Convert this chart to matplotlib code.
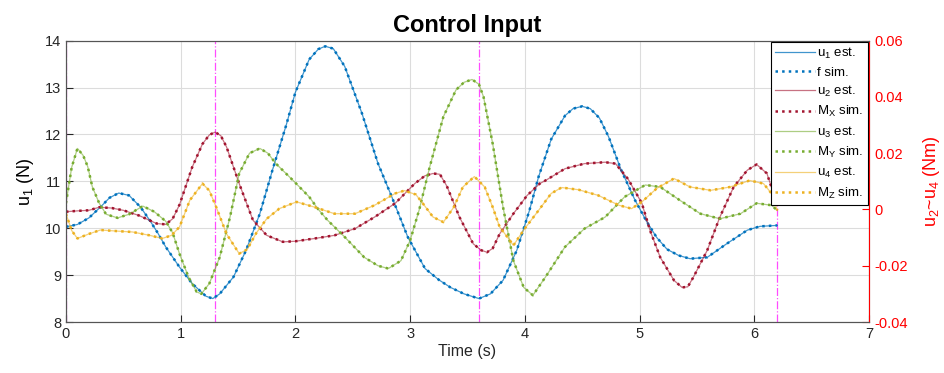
import matplotlib
matplotlib.use("Agg")
import matplotlib.pyplot as plt
from matplotlib.ticker import FuncFormatter

plt.rcParams["font.family"] = ["Liberation Sans", "DejaVu Sans"]
plt.rcParams["mathtext.fontset"] = "custom"
plt.rcParams["mathtext.rm"] = "Liberation Sans"
plt.rcParams["mathtext.it"] = "Liberation Sans"

# ---- data (u1 in N, u2..u4 in Nm) ----
t_u1 = [0, 0.1, 0.2, 0.3, 0.38, 0.46, 0.55, 0.65, 0.73, 0.8, 0.87, 0.99, 1.1,
        1.22, 1.28, 1.34, 1.46, 1.57, 1.69, 1.8, 1.92, 2.0, 2.12, 2.2, 2.26,
        2.33, 2.43, 2.58, 2.72, 2.84, 2.98, 3.13, 3.25, 3.35, 3.47, 3.6, 3.7,
        3.81, 3.93, 4.04, 4.12, 4.23, 4.35, 4.42, 4.5, 4.57, 4.65, 4.73, 4.84,
        4.96, 5.06, 5.15, 5.24, 5.34, 5.44, 5.59, 5.76, 5.94, 6.05, 6.2]
u1 = [10.03, 10.08, 10.22, 10.45, 10.65, 10.75, 10.7, 10.45, 10.17, 9.9, 9.6,
      9.17, 8.82, 8.55, 8.5, 8.6, 8.96, 9.53, 10.31, 11.24, 12.2, 12.9, 13.6,
      13.82, 13.88, 13.83, 13.45, 12.45, 11.38, 10.67, 9.81, 9.14, 8.9, 8.74,
      8.6, 8.5, 8.6, 8.89, 9.53, 10.38, 11.1, 11.9, 12.4, 12.55, 12.6, 12.55,
      12.35, 11.95, 11.24, 10.6, 10.15, 9.8, 9.55, 9.42, 9.35, 9.38, 9.67,
      9.96, 10.04, 10.06]

t_u2 = [0, 0.1, 0.2, 0.29, 0.4, 0.5, 0.64, 0.79, 0.87, 0.93, 0.99, 1.1, 1.19,
        1.25, 1.3, 1.35, 1.4, 1.51, 1.63, 1.75, 1.89, 2.0, 2.17, 2.34, 2.52,
        2.69, 2.87, 3.04, 3.13, 3.2, 3.26, 3.32, 3.43, 3.55, 3.62, 3.67, 3.72,
        3.78, 3.9, 4.02, 4.13, 4.18, 4.35, 4.52, 4.7, 4.79, 4.9, 5.02, 5.09,
        5.18, 5.3, 5.37, 5.42, 5.47, 5.59, 5.7, 5.82, 5.94, 6.02, 6.11, 6.2]
u2 = [-0.0008, -0.0005, -0.0003, 0.0008, 0.0005, -0.0003, -0.0022, -0.005,
      -0.0053, -0.0033, 0.0017, 0.015, 0.0233, 0.0265, 0.0275, 0.0262, 0.0222,
      0.0092, -0.0038, -0.0092, -0.0115, -0.0113, -0.0103, -0.0092, -0.0068,
      -0.0027, 0.0022, 0.0092, 0.012, 0.0128, 0.0125, 0.0083, -0.0027,
      -0.0122, -0.0145, -0.0152, -0.0138, -0.0087, -0.0015, 0.005, 0.0092,
      0.0103, 0.0145, 0.0163, 0.0168, 0.0163, 0.0108, 0.0022, -0.0073, -0.017,
      -0.0252, -0.0277, -0.0275, -0.024, -0.0145, -0.0027, 0.008, 0.014, 0.016,
      0.0128, 0.0017]

t_u3 = [0, 0.05, 0.1, 0.15, 0.19, 0.23, 0.29, 0.35, 0.45, 0.55, 0.67, 0.77,
        0.87, 0.93, 0.99, 1.07, 1.14, 1.18, 1.25, 1.34, 1.43, 1.51, 1.6, 1.69,
        1.76, 1.83, 1.98, 2.12, 2.2, 2.28, 2.43, 2.6, 2.72, 2.81, 2.92, 3.0,
        3.08, 3.17, 3.29, 3.4, 3.47, 3.54, 3.6, 3.64, 3.72, 3.81, 3.9, 3.99,
        4.07, 4.18, 4.35, 4.52, 4.7, 4.87, 5.05, 5.18, 5.35, 5.53, 5.7, 5.88,
        6.02, 6.15, 6.2]
u3 = [0.0022, 0.015, 0.0217, 0.0192, 0.0152, 0.008, 0.0022, -0.0017, -0.003,
      -0.0017, 0.0012, -0.0008, -0.0042, -0.0083, -0.0158, -0.0242, -0.0293,
      -0.03, -0.0263, -0.017, -0.0027, 0.0128, 0.02, 0.0217, 0.02, 0.0163,
      0.0103, 0.0045, 0.0, -0.0038, -0.0098, -0.017, -0.02, -0.021, -0.0182,
      -0.011, 0.0, 0.015, 0.033, 0.0425, 0.0452, 0.0462, 0.0445, 0.04, 0.0233,
      0.0008, -0.0182, -0.0277, -0.0305, -0.024, -0.0133, -0.0068, -0.0027,
      0.0045, 0.0087, 0.008, 0.0033, -0.0015, -0.0033, -0.0015, 0.0022, 0.0015,
      -0.0003]

t_u4 = [0, 0.05, 0.1, 0.2, 0.3, 0.45, 0.58, 0.73, 0.84, 0.92, 0.99, 1.08, 1.19,
        1.25, 1.31, 1.4, 1.51, 1.58, 1.66, 1.75, 1.86, 2.01, 2.17, 2.34, 2.52,
        2.69, 2.87, 2.95, 3.05, 3.11, 3.2, 3.29, 3.38, 3.46, 3.56, 3.65, 3.72,
        3.78, 3.87, 3.9, 3.99, 4.12, 4.23, 4.32, 4.47, 4.64, 4.82, 4.93, 5.02,
        5.15, 5.3, 5.44, 5.62, 5.79, 5.96, 6.08, 6.15, 6.2]
u4 = [-0.0015, -0.0075, -0.0103, -0.0087, -0.0073, -0.0077, -0.008, -0.0092,
      -0.0103, -0.0092, -0.0062, 0.0033, 0.0092, 0.0067, 0.0008, -0.0087,
      -0.0157, -0.0142, -0.0083, -0.0033, 0.0003, 0.0027, 0.0008, -0.0015,
      -0.0015, 0.0015, 0.0057, 0.0067, 0.0053, 0.0022, -0.0027, -0.0045,
      0.0008, 0.008, 0.0117, 0.008, 0.0008, -0.0062, -0.011, -0.0128, -0.0073,
      -0.0003, 0.0057, 0.0078, 0.007, 0.005, 0.0015, 0.0003, 0.0027, 0.0075,
      0.011, 0.008, 0.0068, 0.008, 0.0103, 0.0092, 0.0057, -0.0003]

event_times = [0, 1.3, 3.6, 6.2]

est_labels = [r"u$_1$ est.", r"u$_2$ est.", r"u$_3$ est.", r"u$_4$ est."]
sim_labels = [r"f sim.", r"M$_X$ sim.", r"M$_Y$ sim.", r"M$_Z$ sim."]
colors = ["#0072BD", "#A2142F", "#77AC30", "#EDB120"]

fig = plt.figure(figsize=(9.45, 3.73), dpi=100)
ax = fig.add_axes([0.0698, 0.1367, 0.8498, 0.7543])
ax2 = ax.twinx()

handles = []
h1, = ax.plot(t_u1, u1, "-", color=colors[0], lw=0.9, alpha=0.75, label=est_labels[0])
h2, = ax.plot(t_u1, u1, ":", color=colors[0], lw=1.8, label=sim_labels[0])
handles += [h1, h2]
for i, (tt, yy) in enumerate([(t_u2, u2), (t_u3, u3), (t_u4, u4)], start=1):
    he, = ax2.plot(tt, yy, "-", color=colors[i], lw=0.9, alpha=0.6, label=est_labels[i])
    hs, = ax2.plot(tt, yy, ":", color=colors[i], lw=1.8, label=sim_labels[i])
    handles += [he, hs]

for te in event_times:
    ax.axvline(te, color="#FF00FF", lw=0.9, ls="-.", alpha=0.7, zorder=1.5)

ax.set_xlim(0, 7)
ax.set_ylim(8, 14)
ax2.set_ylim(-0.04, 0.06)
ax.set_xticks(range(0, 8))
ax.set_yticks(range(8, 15))
ax2.set_yticks([-0.04, -0.02, 0, 0.02, 0.04, 0.06])
ax2.yaxis.set_major_formatter(FuncFormatter(lambda v, p: f"{v:g}"))

ax.grid(True, color="#DCDCDC", lw=0.8)
ax.set_axisbelow(True)

dark = "#262626"
for a in (ax, ax2):
    a.tick_params(direction="in", length=5, labelsize=10.5)
    for s in a.spines.values():
        s.set_color("#555555")
ax.tick_params(colors=dark, labelcolor=dark)
ax2.tick_params(axis="y", colors="red", labelcolor="red")
ax2.spines["right"].set_color("red")

ax.set_xlabel("Time (s)", fontsize=11.5, color=dark, labelpad=2)
ax.set_ylabel(r"u$_1$ (N)", fontsize=13, color="black", labelpad=6)
ax2.set_ylabel(r"u$_2$~u$_4$ (Nm)", fontsize=13, color="red", labelpad=10)
ax.set_title("Control Input", fontsize=17, fontweight="bold", pad=6)

leg = ax2.legend(handles=handles, loc="upper right", borderaxespad=0.1,
                 fontsize=9.5, fancybox=False, framealpha=1, edgecolor="black",
                 handlelength=3.0, labelspacing=0.4, handletextpad=0.2,
                 borderpad=0.3)
leg.get_frame().set_linewidth(0.8)

fig.savefig("out.png", dpi=100)
